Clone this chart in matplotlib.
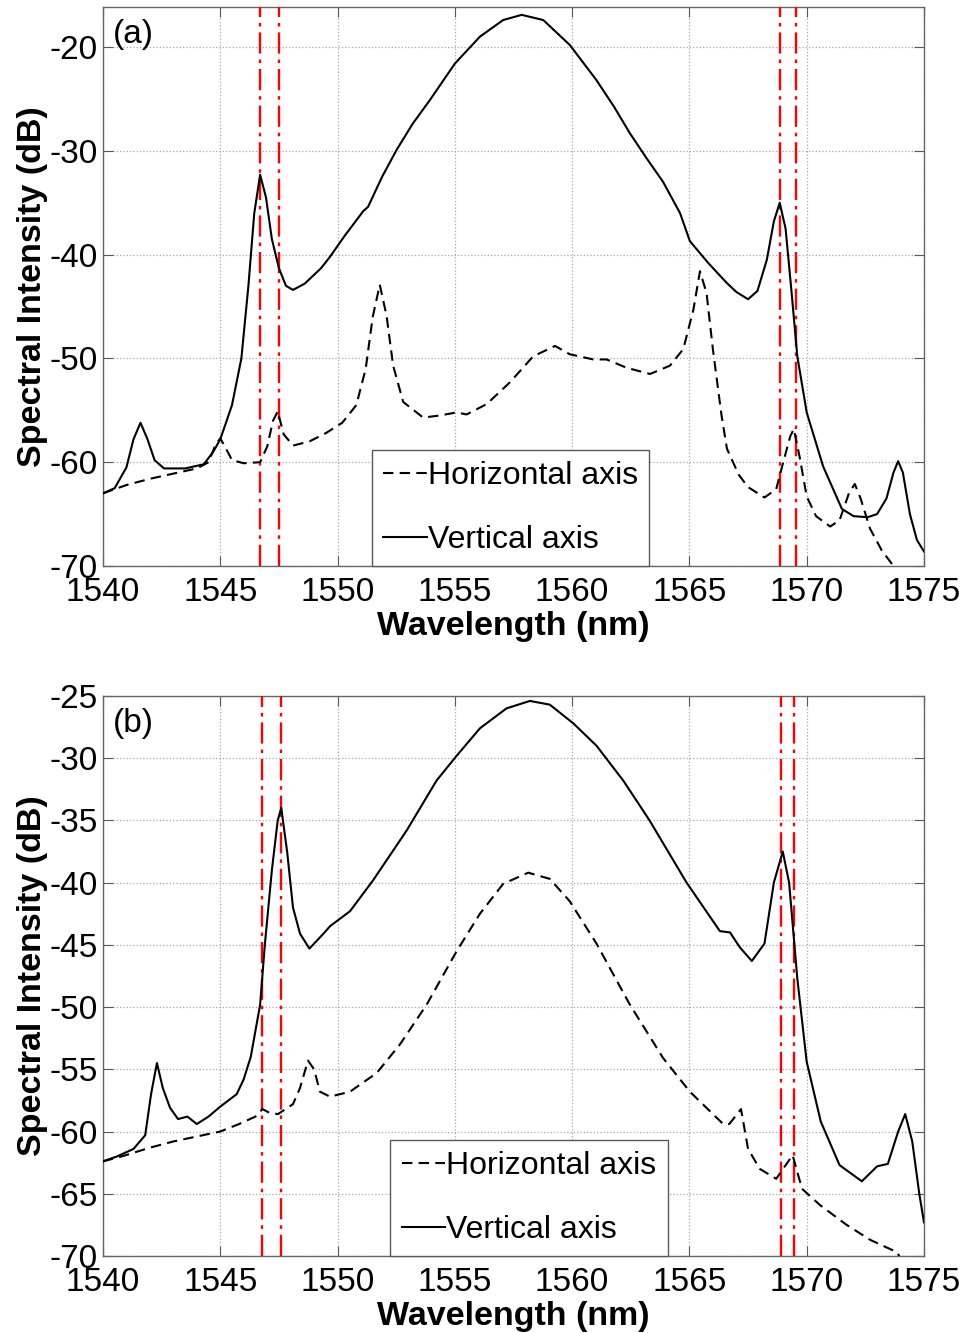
import matplotlib
matplotlib.use('Agg')
import matplotlib.pyplot as plt

plt.rcParams['font.family'] = ['Liberation Sans', 'DejaVu Sans']
plt.rcParams['axes.unicode_minus'] = False

# ---- panel (a) ----
a_vert_x = [1540.0, 1540.5, 1541.0, 1541.3, 1541.6, 1541.9, 1542.2, 1542.6, 1543.5, 1544.3,
            1544.7, 1545.0, 1545.5, 1545.9, 1546.2, 1546.45, 1546.7, 1546.95, 1547.2, 1547.5,
            1547.8, 1548.1, 1548.6, 1549.3, 1549.68, 1550.3, 1551.1, 1551.3, 1551.9, 1552.52,
            1553.2, 1553.94, 1555.0, 1556.07, 1557.06, 1557.85, 1558.77, 1559.9, 1561.04, 1561.8,
            1562.46, 1563.2, 1563.88, 1564.6, 1565.02, 1565.8, 1566.58, 1567.0, 1567.5, 1567.9,
            1568.3, 1568.6, 1568.85, 1569.1, 1569.35, 1569.6, 1570.0, 1570.7, 1571.5, 1572.0,
            1572.6, 1573.0, 1573.4, 1573.7, 1573.9, 1574.1, 1574.4, 1574.7, 1575.0]
a_vert_y = [-63.0, -62.5, -60.5, -57.8, -56.2, -57.8, -59.8, -60.6, -60.6, -60.2,
            -59.0, -57.8, -54.5, -50.0, -43.0, -36.0, -32.3, -34.5, -38.5, -41.3,
            -43.0, -43.4, -42.8, -41.3, -40.2, -38.2, -35.8, -35.4, -32.5, -29.9,
            -27.4, -25.1, -21.6, -19.0, -17.4, -16.9, -17.4, -19.8, -23.2, -25.8,
            -28.3, -30.8, -33.0, -36.0, -38.7, -40.8, -42.7, -43.6, -44.3, -43.5,
            -40.5, -36.8, -35.0, -37.5, -43.5, -49.8, -55.2, -60.4, -64.5, -65.2,
            -65.3, -65.0, -63.5, -61.0, -59.9, -61.0, -65.0, -67.5, -68.6]

a_horiz_x = [1540.0, 1541.0, 1542.0, 1543.0, 1544.0, 1544.5, 1544.8, 1545.0, 1545.2, 1545.5,
             1546.0, 1546.7, 1547.0, 1547.25, 1547.45, 1547.7, 1548.1, 1548.8, 1549.5, 1550.2,
             1550.8, 1551.2, 1551.5, 1551.8, 1552.09, 1552.37, 1552.8, 1553.65, 1554.36, 1555.08,
             1555.5, 1556.36, 1557.35, 1558.34, 1559.27, 1559.9, 1560.9, 1561.47, 1562.32, 1563.32,
             1564.17, 1564.74, 1565.17, 1565.45, 1565.73, 1566.0, 1566.37, 1566.6,
             1567.1, 1567.5, 1568.2, 1568.7, 1569.0, 1569.3, 1569.45, 1569.7, 1570.0, 1570.4,
             1571.0, 1571.4, 1571.8, 1572.05, 1572.3, 1572.7, 1573.2, 1573.7, 1574.0]
a_horiz_y = [-63.0, -62.2, -61.6, -61.1, -60.6, -60.0, -58.3, -57.7, -58.5, -59.8,
             -60.1, -60.0, -58.5, -56.0, -55.1, -57.3, -58.4, -58.0, -57.2, -56.2,
             -54.5, -51.0, -46.0, -42.9, -45.9, -50.7, -54.2, -55.7, -55.5, -55.2,
             -55.4, -54.4, -52.3, -49.8, -48.8, -49.6, -50.1, -50.1, -50.9, -51.5,
             -50.7, -49.1, -45.3, -41.6, -43.7, -49.1, -55.5, -58.7,
             -61.2, -62.4, -63.4, -62.6, -60.0, -57.5, -56.8, -59.5, -63.3, -65.2,
             -66.2, -65.6, -63.0, -62.1, -63.5, -66.4, -68.5, -70.0, -71.0]

# ---- panel (b) ----
b_vert_x = [1540.0, 1540.6, 1541.3, 1541.8, 1542.05, 1542.3, 1542.55, 1542.86, 1543.2, 1543.6,
            1544.0, 1544.5, 1545.0, 1545.7, 1546.0, 1546.3, 1546.7, 1546.9, 1547.2, 1547.45,
            1547.6, 1547.85, 1548.1, 1548.4, 1548.8, 1549.4, 1549.68, 1550.53, 1551.52, 1552.95,
            1554.22, 1555.08, 1556.07, 1557.2, 1558.2, 1559.05, 1560.05, 1561.04, 1562.18, 1563.3,
            1564.88, 1566.3, 1566.73, 1567.15, 1567.66, 1568.2, 1568.6, 1568.98, 1569.25, 1569.6,
            1570.0, 1570.6, 1571.4, 1572.35, 1573.0, 1573.46, 1573.9, 1574.2, 1574.5, 1574.8,
            1575.0]
b_vert_y = [-62.4, -62.0, -61.4, -60.3, -57.0, -54.5, -56.5, -58.1, -59.0, -58.8,
            -59.4, -58.8, -58.0, -57.0, -55.8, -54.0, -49.8, -45.0, -39.0, -35.0,
            -34.0, -37.5, -42.0, -44.1, -45.3, -44.1, -43.5, -42.3, -39.8, -35.8,
            -31.8, -29.8, -27.6, -26.0, -25.4, -25.7, -27.2, -29.0, -31.8, -35.0,
            -40.0, -43.9, -44.0, -45.2, -46.3, -44.9, -40.0, -37.5, -40.0, -47.7,
            -54.4, -59.2, -62.7, -64.0, -62.8, -62.6, -60.0, -58.6, -60.8, -65.0,
            -67.3]

b_horiz_x = [1540.0, 1540.8, 1542.0, 1543.0, 1544.0, 1545.0, 1545.8, 1546.5, 1546.8, 1547.1,
             1547.46, 1548.1, 1548.4, 1548.74, 1549.0, 1549.25, 1549.68, 1550.53, 1551.67, 1552.66,
             1553.8, 1555.08, 1556.07, 1557.06, 1558.13, 1559.05, 1559.9, 1561.04, 1562.46, 1563.88,
             1565.02, 1566.44, 1566.7, 1567.2, 1567.5, 1568.0, 1568.7, 1569.4, 1569.8,
             1570.56, 1571.7, 1572.7, 1573.85, 1574.0]
b_horiz_y = [-62.4, -62.0, -61.3, -60.8, -60.4, -60.0, -59.4, -58.8, -58.2, -58.5,
             -58.6, -57.8, -56.5, -54.3, -55.0, -56.8, -57.2, -56.8, -55.3, -53.0,
             -49.8, -45.5, -42.5, -40.1, -39.2, -39.7, -41.5, -44.9, -49.8, -54.1,
             -56.8, -59.4, -59.4, -58.2, -61.4, -63.0, -63.8, -61.9, -64.6,
             -65.9, -67.5, -68.7, -69.7, -70.2]

# red marker lines (nm)
a_marks = [1546.7, 1547.5, 1568.85, 1569.55]
b_marks = [1546.8, 1547.6, 1568.9, 1569.45]

xticks = [1540, 1545, 1550, 1555, 1560, 1565, 1570, 1575]
a_yticks = [-70, -60, -50, -40, -30, -20]
b_yticks = [-70, -65, -60, -55, -50, -45, -40, -35, -30, -25]

FS = 24
LFS = 24.5
LEGFS = 23


def draw(ax, hx, hy, vx, vy, marks, yticks, ylim, tag, leg_x):
    for m in marks:
        ax.axvline(m, color='red', lw=1.7, ls=(0, (9, 2.5, 1.5, 2.5)), zorder=3)
    ax.plot(hx, hy, color='black', lw=1.5, ls=(0, (5, 3)), label='Horizontal axis', zorder=4)
    ax.plot(vx, vy, color='black', lw=1.5, label='Vertical axis', zorder=4)
    ax.set_xlim(1540, 1575)
    ax.set_ylim(*ylim)
    ax.set_xticks(xticks)
    ax.set_yticks(yticks)
    ax.grid(True, ls=':', color='#a8a8a8', lw=0.9)
    ax.tick_params(direction='in', top=True, right=True, length=7, width=0.8,
                   labelsize=FS, colors='0.35', labelcolor='black')
    ax.tick_params(axis='x', pad=8)
    ax.tick_params(axis='y', pad=4)
    for s in ax.spines.values():
        s.set_color('0.4')
        s.set_linewidth(1.0)
    ax.set_xlabel('Wavelength (nm)', fontsize=LFS, fontweight='bold', labelpad=2)
    ax.set_ylabel('Spectral Intensity (dB)', fontsize=LFS, fontweight='bold', labelpad=1)
    ax.text(0.012, 0.978, tag, transform=ax.transAxes, ha='left', va='top', fontsize=FS)
    leg = ax.legend(loc='lower left', bbox_to_anchor=(leg_x, 0.0), fontsize=LEGFS,
                    frameon=True, fancybox=False, framealpha=1, edgecolor='0.35',
                    borderaxespad=0, handlelength=1.35, handletextpad=0.05,
                    labelspacing=1.05, borderpad=0.35)
    leg.get_frame().set_linewidth(1.0)


fig = plt.figure(figsize=(9.66, 13.33), dpi=100)
ax1 = fig.add_axes([0.1066, 0.5754, 0.8499, 0.4193])
ax2 = fig.add_axes([0.1066, 0.0578, 0.8499, 0.4201])

draw(ax1, a_horiz_x, a_horiz_y, a_vert_x, a_vert_y, a_marks, a_yticks, (-70, -16.15), '(a)', 0.328)
draw(ax2, b_horiz_x, b_horiz_y, b_vert_x, b_vert_y, b_marks, b_yticks, (-70, -25), '(b)', 0.35)

fig.savefig('out.png', dpi=100, facecolor='white')
